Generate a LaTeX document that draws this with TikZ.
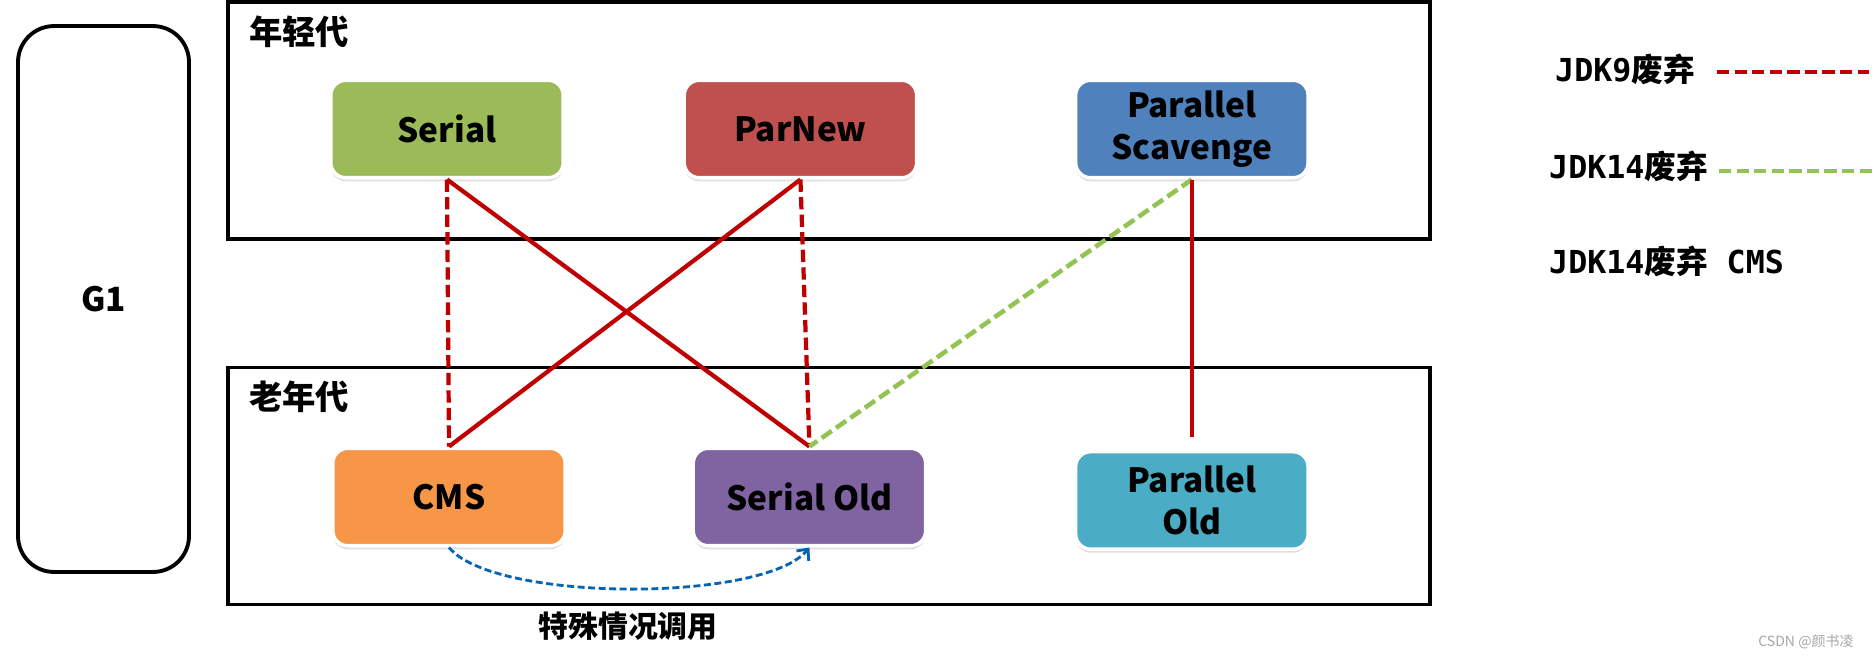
\documentclass[tikz,border=0pt]{standalone}
\usepackage{fontspec}
\setmainfont{Noto Sans CJK SC}
\newfontfamily\monofont{DejaVu Sans Mono}
\usetikzlibrary{positioning, arrows.meta, shadows}

\definecolor{serialfill}{HTML}{9BBB59}
\definecolor{parnewfill}{HTML}{C0504D}
\definecolor{pscavfill}{HTML}{4F81BD}
\definecolor{cmsfill}{HTML}{F79646}
\definecolor{soldfill}{HTML}{8064A2}
\definecolor{poldfill}{HTML}{4BACC6}
\definecolor{jdkred}{HTML}{C00000}
\definecolor{jdkgreen}{HTML}{92C353}
\definecolor{callblue}{HTML}{0563B5}

\begin{document}
\begin{tikzpicture}[x=0.02cm, y=-0.02cm]
	% Define styles
	\tikzset{
		gc/.style={rectangle, rounded corners=0.3cm, draw=white, line width=2pt, minimum width=4.65cm, minimum height=1.95cm, align=center, font=\bfseries\fontsize{19}{24}\selectfont, drop shadow={opacity=0.25, shadow xshift=0pt, shadow yshift=-2pt}},
		gen/.style={rectangle, draw, line width=2.2pt, minimum width=24.04cm, minimum height=4.74cm},
		genlabel/.style={anchor=west, font=\bfseries\fontsize{19}{21}\selectfont},
		solidred/.style={draw=jdkred, line width=2.4pt},
		dashred/.style={solidred, dash pattern=on 7pt off 3pt},
		dashgreen/.style={draw=jdkgreen, line width=2.6pt, dash pattern=on 7pt off 3pt},
		calldash/.style={draw=callblue, line width=1.6pt, dash pattern=on 4pt off 2pt, -{Straight Barb[length=5pt, width=9pt]}},
		legend/.style={anchor=west, font=\bfseries\fontsize{18}{20}\selectfont}
	}
	\useasboundingbox (0,0) rectangle (1876,660);
	
	% Regions
	\node[rectangle, draw, line width=2.2pt, rounded corners=0.72cm, minimum width=3.42cm, minimum height=10.92cm, font=\bfseries\fontsize{19}{21}\selectfont] (g1) at (103.5,299) {G1};
	\node[gen] (young) at (829,120.5) {};
	\node[gen] (old) at (829,486) {};
	\node[genlabel] (younglabel) at (243,32) {年轻代};
	\node[genlabel] (oldlabel) at (243,397) {老年代};
	
	% Collectors
	\node[gc, fill=serialfill] (serial) at (447,129) {Serial};
	\node[gc, fill=parnewfill, right=2.35cm of serial] (parnew) {ParNew};
	\node[gc, fill=pscavfill, right=3.11cm of parnew] (pscav) {Parallel\\Scavenge};
	
	\node[gc, fill=cmsfill] (cms) at (449,497) {CMS};
	\node[gc, fill=soldfill, right=2.49cm of cms] (sold) {Serial Old};
	\node[gc, fill=poldfill, below=5.41cm of pscav] (pold) {Parallel\\Old};
	
	% Connections
	\draw[dashred] (serial.south) -- (cms.north);
	\draw[solidred] (serial.south) -- (sold.north);
	\draw[solidred] (parnew.south) -- (cms.north);
	\draw[dashred] (parnew.south) -- (sold.north);
	\draw[dashgreen] (pscav.south) -- (sold.north);
	\draw[solidred, shorten >=0.25cm] (pscav.south) -- (pold.north);
	
	\draw[calldash] (cms.south) .. controls +(45,55) and +(-45,55) .. (sold.south);
	\node[font=\bfseries\fontsize{17}{19}\selectfont] (call) at (628,626) {特殊情况调用};
	
	% Legend
	\node[legend] (jdk9) at (1549,69) {{\monofont JDK9}废弃};
	\coordinate (jdk9a) at (1717,72);
	\coordinate (jdk9b) at (1869,72);
	\draw[dashred] (jdk9a) -- (jdk9b);
	
	\node[legend] (jdk14) at (1543,166) {{\monofont JDK14}废弃};
	\coordinate (jdk14a) at (1719,171);
	\coordinate (jdk14b) at (1872,171);
	\draw[dashgreen] (jdk14a) -- (jdk14b);
	
	\node[legend] (jdk14cms) at (1543,261) {{\monofont JDK14}废弃{\monofont\ CMS}};
	
	\node[text=gray!70, font=\fontsize{8}{9}\selectfont] (mark) at (1806,642) {CSDN @颜书凌};
	
\end{tikzpicture}
\end{document}
